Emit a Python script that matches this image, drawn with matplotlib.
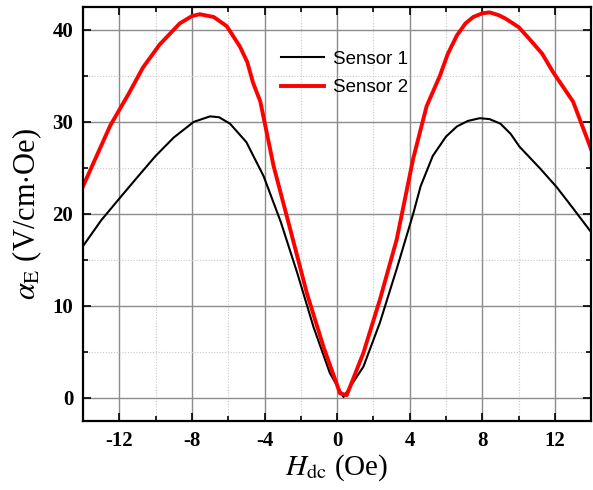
import matplotlib
matplotlib.use("Agg")
import matplotlib.pyplot as plt
from matplotlib.ticker import MultipleLocator

# values
s1_h = [-14.0, -13.0, -11.9, -11.0, -10.0, -9.0, -7.9, -7.0, -6.5, -5.9, -5.0,
        -4.05, -3.1, -2.2, -1.3, -0.4, 0.35, 1.45, 2.36, 3.28, 4.19, 4.6, 5.27,
        6.0, 6.6, 7.2, 7.86, 8.4, 9.0, 9.56, 10.05, 11.2, 12.1, 13.0, 14.0]
s1_a = [16.5, 19.3, 21.9, 24.0, 26.3, 28.3, 30.0, 30.6, 30.5, 29.8, 27.8,
        24.1, 19.1, 13.6, 7.7, 2.7, 0.1, 3.4, 8.2, 14.0, 20.0, 23.0, 26.3,
        28.4, 29.5, 30.1, 30.4, 30.3, 29.8, 28.7, 27.3, 24.9, 22.9, 20.6, 18.0]

s2_h = [-14.0, -12.5, -11.5, -10.7, -9.78, -9.2, -8.67, -8.0, -7.57, -6.8,
        -6.08, -5.36, -4.95, -4.64, -4.23, -3.5, -2.58, -1.67, -0.76, 0.16,
        0.53, 1.45, 2.36, 3.28, 4.19, 4.93, 5.66, 6.1, 6.6, 7.07, 7.5, 8.0,
        8.4, 8.9, 9.3, 10.0, 10.6, 11.3, 11.9, 13.0, 14.0]
s2_a = [23.0, 29.6, 33.0, 35.9, 38.4, 39.6, 40.7, 41.5, 41.7, 41.4,
        40.4, 38.2, 36.5, 34.3, 32.2, 25.2, 18.3, 11.4, 5.6, 0.5,
        0.3, 4.9, 10.7, 17.2, 26.0, 31.7, 35.0, 37.4, 39.4, 40.7, 41.4, 41.8,
        41.9, 41.6, 41.2, 40.3, 39.0, 37.4, 35.4, 32.2, 27.0]

plt.rcParams["font.family"] = "Liberation Serif"
plt.rcParams["mathtext.fontset"] = "stix"
plt.rcParams["axes.unicode_minus"] = False

fig = plt.figure(figsize=(5.93, 4.90), dpi=100)
ax = fig.add_axes([0.140, 0.141, 0.857, 0.845])

ax.plot(s1_h, s1_a, color="black", lw=1.5, label="Sensor 1")
ax.plot(s2_h, s2_a, color="red", lw=2.8, label="Sensor 2")

ax.set_xlim(-14, 14)
ax.set_ylim(-2.5, 42.5)
ax.xaxis.set_major_locator(MultipleLocator(4))
ax.xaxis.set_minor_locator(MultipleLocator(2))
ax.yaxis.set_major_locator(MultipleLocator(10))
ax.yaxis.set_minor_locator(MultipleLocator(5))
ax.set_xticks([-12, -8, -4, 0, 4, 8, 12])

ax.grid(which="major", color="#8c8c8c", lw=1.0)
ax.grid(which="minor", color="#c8c8c8", lw=0.8, ls=(0, (1, 1.5)))
ax.set_axisbelow(True)

ax.tick_params(which="both", direction="in", top=True, right=True, width=1.2)
ax.tick_params(which="major", length=6, labelsize=15, pad=7)
ax.tick_params(which="minor", length=3.5)
for lab in ax.get_xticklabels() + ax.get_yticklabels():
    lab.set_fontweight("bold")
for sp in ax.spines.values():
    sp.set_linewidth(1.6)

ax.set_xlabel(r"$H_{\mathrm{dc}}$ (Oe)", fontsize=21, labelpad=1)
ax.set_ylabel(r"$\alpha_{\mathrm{E}}$ (V/cm$\cdot$Oe)", fontsize=22, labelpad=6)

ax.legend(loc="upper center", bbox_to_anchor=(0.515, 0.935), frameon=False,
          prop={"family": "Liberation Sans", "size": 13.5}, handlelength=2.3,
          handletextpad=0.5, labelspacing=0.6)

fig.savefig("out.png", dpi=100)
